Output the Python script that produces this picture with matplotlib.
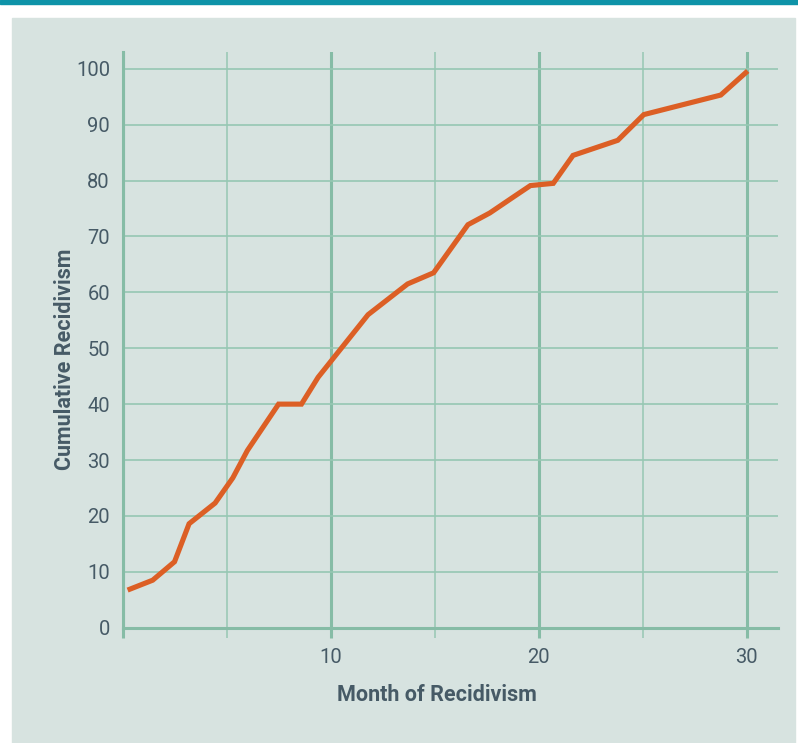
import matplotlib.pyplot as plt
from matplotlib.patches import Rectangle

# values
months = [0.36, 1.45, 2.5, 3.2, 4.45, 5.3, 6.0, 7.5, 8.6, 9.4, 11.8, 13.7, 14.95,
          16.6, 17.65, 18.8, 19.6, 20.7, 21.65, 23.8, 25.05, 28.75, 29.95]
recidivism = [6.9, 8.5, 11.8, 18.6, 22.3, 26.8, 31.7, 40.0, 40.0, 44.8, 56.0, 61.5, 63.5,
              72.1, 74.2, 77.1, 79.1, 79.5, 84.5, 87.2, 91.8, 95.3, 99.3]
x_major = [0, 10, 20, 30]
x_labels = ['', '10', '20', '30']
x_minor = [5, 15, 25]
y_ticks = list(range(0, 101, 10))

panel = '#d7e3e0'
thick = '#86bca6'
thin = '#96c7b3'
text_col = '#465a66'
orange = '#dc5f25'

W, H = 798, 743
fig = plt.figure(figsize=(W / 100, H / 100), dpi=100)
fig.patch.set_facecolor('white')
fig.add_artist(Rectangle((12 / W, 0), (795 - 12) / W, 1 - 18 / H,
                         transform=fig.transFigure, color=panel, zorder=-5))
fig.add_artist(Rectangle((0, 1 - 4 / H), 1, 4 / H,
                         transform=fig.transFigure, color='#0e93a8', zorder=-5))

left, right, top, bottom = 122.5, 778, 52, 627.7
ax = fig.add_axes([left / W, 1 - bottom / H, (right - left) / W, (bottom - top) / H])
ax.set_zorder(1)
ax.set_facecolor(panel)
ax.set_xlim(0, 31.5)
ax.set_ylim(0, 103)

for s in ['top', 'right']:
    ax.spines[s].set_visible(False)
for s in ['left', 'bottom']:
    ax.spines[s].set_color(thick)
    ax.spines[s].set_linewidth(2.2)

ax.set_xticks(x_major)
ax.set_xticklabels(x_labels)
ax.set_xticks(x_minor, minor=True)
ax.set_yticks(y_ticks)

ax.grid(axis='x', which='major', color=thick, linewidth=2.2)
ax.grid(axis='x', which='minor', color=thin, linewidth=1.1)
ax.grid(axis='y', which='major', color=thin, linewidth=1.2)
ax.set_axisbelow(True)

ax.tick_params(axis='x', which='major', length=7.5, width=2.2, color=thick, pad=7,
               labelsize=14.5, labelcolor=text_col)
ax.tick_params(axis='x', which='minor', length=7.5, width=1.1, color=thin)
ax.tick_params(axis='y', length=0, pad=9, labelsize=14.5, labelcolor=text_col)
for lab in ax.get_xticklabels() + ax.get_yticklabels():
    lab.set_fontfamily(['Roboto', 'DejaVu Sans'])
    lab.set_fontweight('normal')

ax.plot(months, recidivism, color=orange, linewidth=3.7, solid_joinstyle='miter', zorder=3)

lab_font = dict(family=['Roboto', 'DejaVu Sans'],
                weight='bold', size=15.5, color=text_col)
ax.set_xlabel('Month of Recidivism', **lab_font)
ax.set_ylabel('Cumulative Recidivism', **lab_font)
ax.xaxis.set_label_coords((437 - left) / (right - left), -(695 - bottom) / (bottom - top))
ax.xaxis.label.set_va('center')
ax.yaxis.set_label_coords((65 - left) / (right - left), (bottom - 359) / (bottom - top))
ax.yaxis.label.set_va('center')

fig.savefig('out.png', dpi=100, facecolor=fig.get_facecolor())
